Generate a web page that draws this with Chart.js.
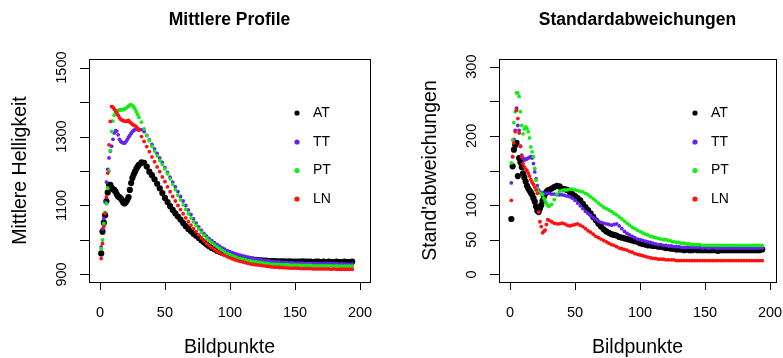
<!DOCTYPE html>
<html><head><meta charset="utf-8">
<script src="https://cdn.jsdelivr.net/npm/chart.js@4.4.1/dist/chart.umd.min.js"></script>
<style>
html,body{margin:0;padding:0;background:#fff;overflow:hidden;width:783px;height:358px}
#c1{position:absolute;left:0;top:0;width:392px;height:358px}
#c2{position:absolute;left:392px;top:0;width:391px;height:358px}
</style>
</head><body>
<canvas id="c1" width="392" height="358"></canvas>
<canvas id="c2" width="391" height="358"></canvas>
<script>
// ---- data ----
const seriesNames = ['AT','TT','PT','LN'];
const seriesColors = ['#000000','#6422f0','#11ee11','#ff1111'];
const X = [1,2,3,4,5,6,7,8,9,10,11,12,13,14,15,16,17,18,19,20,21,22,23,24,25,26,27,28,29,30,
 32,34,36,38,40,42,44,46,48,50,52,54,56,58,60,62,64,66,68,70,72,74,76,78,80,82,84,86,88,90,
 92,94,96,98,100,102,104,106,108,110,112,114,116,118,120,122,124,126,128,130,
 132,134,136,138,140,142,144,146,148,150,152,154,156,158,160,162,164,166,168,170,
 172,174,176,178,180,182,184,186,188,190,192,194];

const leftAT = [961,1024,1050,1072,1113,1138,1160,1160,1152,1147,
 1145,1140,1132,1126,1124,1121,1115,1108,1106,1110,
 1116,1124,1145,1165,1180,1190,1198,1206,1213,1218,
 1225,1224,1213,1198,1188,1176,1163,1150,1136,1122,
 1110,1098,1087,1077,1068,1059,1049,1040,1032,1025,
 1018,1012,1006,999,993,987,982,977,973,969,
 966,963,960,958,956,954,952,951,949,948,
 946,945,944,943,942,941,941,940,940,939,
 939,939,938,938,938,938,937,938,937,937,
 937,937,938,937,937,937,936,937,937,936,
 937,936,937,936,936,937,936,936,937,936,
 936,937];
const leftTT = [980,1032,1062,1110,1168,1205,1238,1258,1272,1292,
 1310,1317,1316,1305,1292,1286,1283,1281,1281,1285,
 1291,1298,1303,1309,1314,1318,1320,1321,1322,1321,
 1320,1314,1303,1290,1277,1264,1251,1238,1225,1210,
 1196,1182,1168,1154,1140,1126,1113,1100,1087,1074,
 1061,1049,1038,1028,1019,1011,1004,998,992,987,
 982,977,973,969,966,963,960,958,956,954,
 952,950,948,946,945,943,942,941,940,939,
 938,937,936,936,935,935,934,934,934,933,
 933,933,933,932,932,932,932,932,931,931,
 931,931,931,931,931,931,930,931,930,930,
 930,930];
const leftPT = [975,1000,1048,1080,1105,1150,1200,1260,1315,1345,
 1362,1370,1374,1376,1377,1377,1378,1379,1380,1382,
 1385,1388,1391,1392,1390,1386,1380,1372,1364,1356,
 1342,1322,1303,1288,1272,1258,1244,1231,1219,1206,
 1192,1177,1161,1146,1130,1116,1102,1089,1076,1064,
 1053,1042,1032,1022,1013,1005,998,992,986,980,
 975,970,965,960,957,954,951,948,946,944,
 942,940,939,937,936,935,934,933,932,931,
 930,930,929,929,928,928,928,927,927,927,
 927,926,926,926,926,926,925,925,925,925,
 925,925,925,925,924,925,924,924,924,924,
 924,924];
const leftLN = [946,990,1038,1077,1125,1194,1276,1344,1387,1385,
 1380,1375,1369,1362,1355,1350,1348,1346,1345,1344,
 1345,1347,1342,1339,1336,1333,1331,1329,1324,1318,
 1300,1286,1271,1256,1241,1227,1212,1198,1183,1169,
 1154,1140,1126,1113,1100,1088,1076,1064,1053,1043,
 1033,1024,1015,1006,998,990,984,978,972,967,
 963,958,955,951,948,945,942,940,938,936,
 934,932,930,929,928,927,926,925,924,923,
 922,921,921,920,920,919,919,918,918,918,
 918,917,917,917,917,917,916,916,916,916,
 916,916,916,915,916,915,915,915,915,915,
 915,915];

const rightAT = [80,156,180,187,190,142,168,162,155,146,
 140,134,128,124,121,118,115,110,105,98,
 92,90,95,100,106,112,116,119,121,122,
 124,126,128,127,124,123,122,119,116,113,
 110,107,102,97,93,88,83,78,73,69,
 65,62,60,58,57,56,54,53,52,51,
 50,49,48,47,45,44,43,42,42,41,
 41,40,40,39,38,38,37,37,36,36,
 36,35,36,35,35,36,35,35,35,35,
 35,35,35,35,34,35,35,35,35,35,
 35,35,35,35,35,35,35,35,35,35,
 35,36];
const rightTT = [132,170,195,208,240,215,208,185,172,168,
 165,166,167,168,169,170,168,160,148,138,
 128,122,119,118,117,117,117,117,117,117,
 116,116,115,115,115,114,113,112,110,107,
 103,99,95,91,88,85,82,79,77,75,
 74,73,72,71,72,73,70,66,62,59,
 57,55,53,51,50,49,48,47,46,45,
 44,43,43,42,42,41,41,40,40,40,
 39,39,39,39,39,39,39,39,38,39,
 38,38,39,38,38,38,38,38,38,38,
 38,38,38,38,38,38,38,38,38,38,
 38,38];
const rightPT = [161,194,219,235,262,262,257,235,215,203,
 210,213,211,206,197,184,177,170,153,136,
 124,119,117,116,115,110,106,103,100,98,
 101,108,116,120,121,122,122,123,123,122,
 121,120,119,117,115,112,109,106,103,100,
 97,95,93,91,88,86,83,80,77,74,
 71,68,66,64,62,60,58,57,55,54,
 53,52,51,50,50,49,48,47,46,46,
 45,45,44,44,43,43,43,43,42,42,
 42,42,42,42,42,42,42,42,42,42,
 42,42,42,42,42,42,42,42,42,42,
 42,42];
const rightLN = [107,170,190,206,237,225,204,185,170,160,
 155,152,150,146,142,137,133,130,126,122,
 117,90,76,69,60,62,64,72,79,78,
 76,74,73,73,74,73,71,70,71,72,
 73,71,69,66,63,61,58,55,53,51,
 49,47,45,43,42,40,38,37,36,35,
 33,32,30,29,28,27,26,25,24,23,
 23,22,22,22,21,21,21,21,20,20,
 20,20,20,20,20,20,20,20,20,20,
 20,20,20,20,20,20,20,20,20,20,
 20,20,20,20,20,20,20,20,20,20,
 20,20];

const xTicks = [0,50,100,150,200];
const leftYTicks = [900,1000,1100,1200,1300,1400,1500];
const leftYLabels = [900,1100,1300,1500];
const rightYTicks = [0,50,100,150,200,250,300];
const rightYLabels = [0,50,100,200,300];
const leftTitle = 'Mittlere Profile';
const rightTitle = 'Standardabweichungen';
const xTitle = 'Bildpunkte';
const leftYTitle = 'Mittlere Helligkeit';
const rightYTitle = "Stand'abweichungen";

// ---- drawing ----
const FONT = "'Liberation Sans', Arial, Helvetica, sans-serif";

const rDecor = {
  id: 'rDecor',
  afterDraw(chart, args, o) {
    const ctx = chart.ctx, a = chart.chartArea;
    const xs = chart.scales.x, ys = chart.scales.y;
    ctx.save();
    ctx.strokeStyle = '#000'; ctx.lineWidth = 1; ctx.fillStyle = '#000';
    ctx.strokeRect(Math.round(a.left)+0.5, Math.round(a.top)+0.5,
                   Math.round(a.right-a.left), Math.round(a.bottom-a.top));
    ctx.beginPath();
    o.xTicks.forEach(v => {
      const px = Math.round(xs.getPixelForValue(v))+0.5;
      ctx.moveTo(px, a.bottom); ctx.lineTo(px, a.bottom+8);
    });
    o.yTicks.forEach(v => {
      const py = Math.round(ys.getPixelForValue(v))+0.5;
      ctx.moveTo(a.left, py); ctx.lineTo(a.left-9, py);
    });
    ctx.stroke();
    ctx.font = '14.5px ' + FONT;
    ctx.textAlign = 'center'; ctx.textBaseline = 'middle';
    o.xTicks.forEach(v => ctx.fillText(String(v), xs.getPixelForValue(v), 312.5));
    o.yLabels.forEach(v => {
      ctx.save();
      ctx.translate(a.left-27, ys.getPixelForValue(v));
      ctx.rotate(-Math.PI/2);
      ctx.fillText(String(v), 0, 0);
      ctx.restore();
    });
    ctx.font = '19.5px ' + FONT;
    ctx.fillText(o.xTitle, (a.left+a.right)/2, 348);
    ctx.save();
    ctx.translate(a.left-68, (a.top+a.bottom)/2);
    ctx.rotate(-Math.PI/2);
    ctx.fillText(o.yTitle, 0, 0);
    ctx.restore();
    ctx.font = 'bold 17.5px ' + FONT;
    ctx.fillText(o.title, (a.left+a.right)/2, 20);
    ctx.font = '14px ' + FONT;
    ctx.textAlign = 'left';
    const ly = [113, 142, 170.5, 199];
    seriesNames.forEach((n, i) => {
      ctx.fillStyle = seriesColors[i];
      ctx.beginPath(); ctx.arc(o.legendX, ly[i], 2.6, 0, Math.PI*2); ctx.fill();
      ctx.fillStyle = '#000';
      ctx.fillText(n, o.legendX + 16, ly[i]);
    });
    ctx.restore();
  }
};

function makeDatasets(arrs) {
  return arrs.map((arr, i) => ({
    label: seriesNames[i],
    data: X.map((x, j) => ({x: x, y: arr[j]})),
    backgroundColor: seriesColors[i],
    borderWidth: 0,
    pointRadius: i === 0 ? 3.1 : 1.9,
    pointHoverRadius: 0,
    order: 4 - i
  }));
}

function makeChart(id, arrs, cfg) {
  return new Chart(document.getElementById(id), {
    type: 'scatter',
    data: { datasets: makeDatasets(arrs) },
    options: {
      responsive: false, animation: false, devicePixelRatio: 1,
      layout: { padding: cfg.padding },
      scales: {
        x: { type: 'linear', display: false, min: cfg.xmin, max: cfg.xmax },
        y: { type: 'linear', display: false, min: cfg.ymin, max: cfg.ymax }
      },
      plugins: {
        legend: { display: false }, tooltip: { enabled: false }, title: { display: false },
        rDecor: cfg.decor
      }
    },
    plugins: [rDecor]
  });
}

makeChart('c1', [leftAT, leftTT, leftPT, leftLN], {
  padding: { left: 89, right: 22, top: 59, bottom: 76 },
  xmin: -8.4, xmax: 207.7, ymin: 878, ymax: 1525,
  decor: { xTicks, yTicks: leftYTicks, yLabels: leftYLabels, title: leftTitle,
           xTitle, yTitle: leftYTitle, legendX: 297 }
});
makeChart('c2', [rightAT, rightTT, rightPT, rightLN], {
  padding: { left: 107, right: 7, top: 59, bottom: 76 },
  xmin: -8.5, xmax: 204.6, ymin: -11, ymax: 311,
  decor: { xTicks, yTicks: rightYTicks, yLabels: rightYLabels, title: rightTitle,
           xTitle, yTitle: rightYTitle, legendX: 303 }
});
</script>
</body></html>
